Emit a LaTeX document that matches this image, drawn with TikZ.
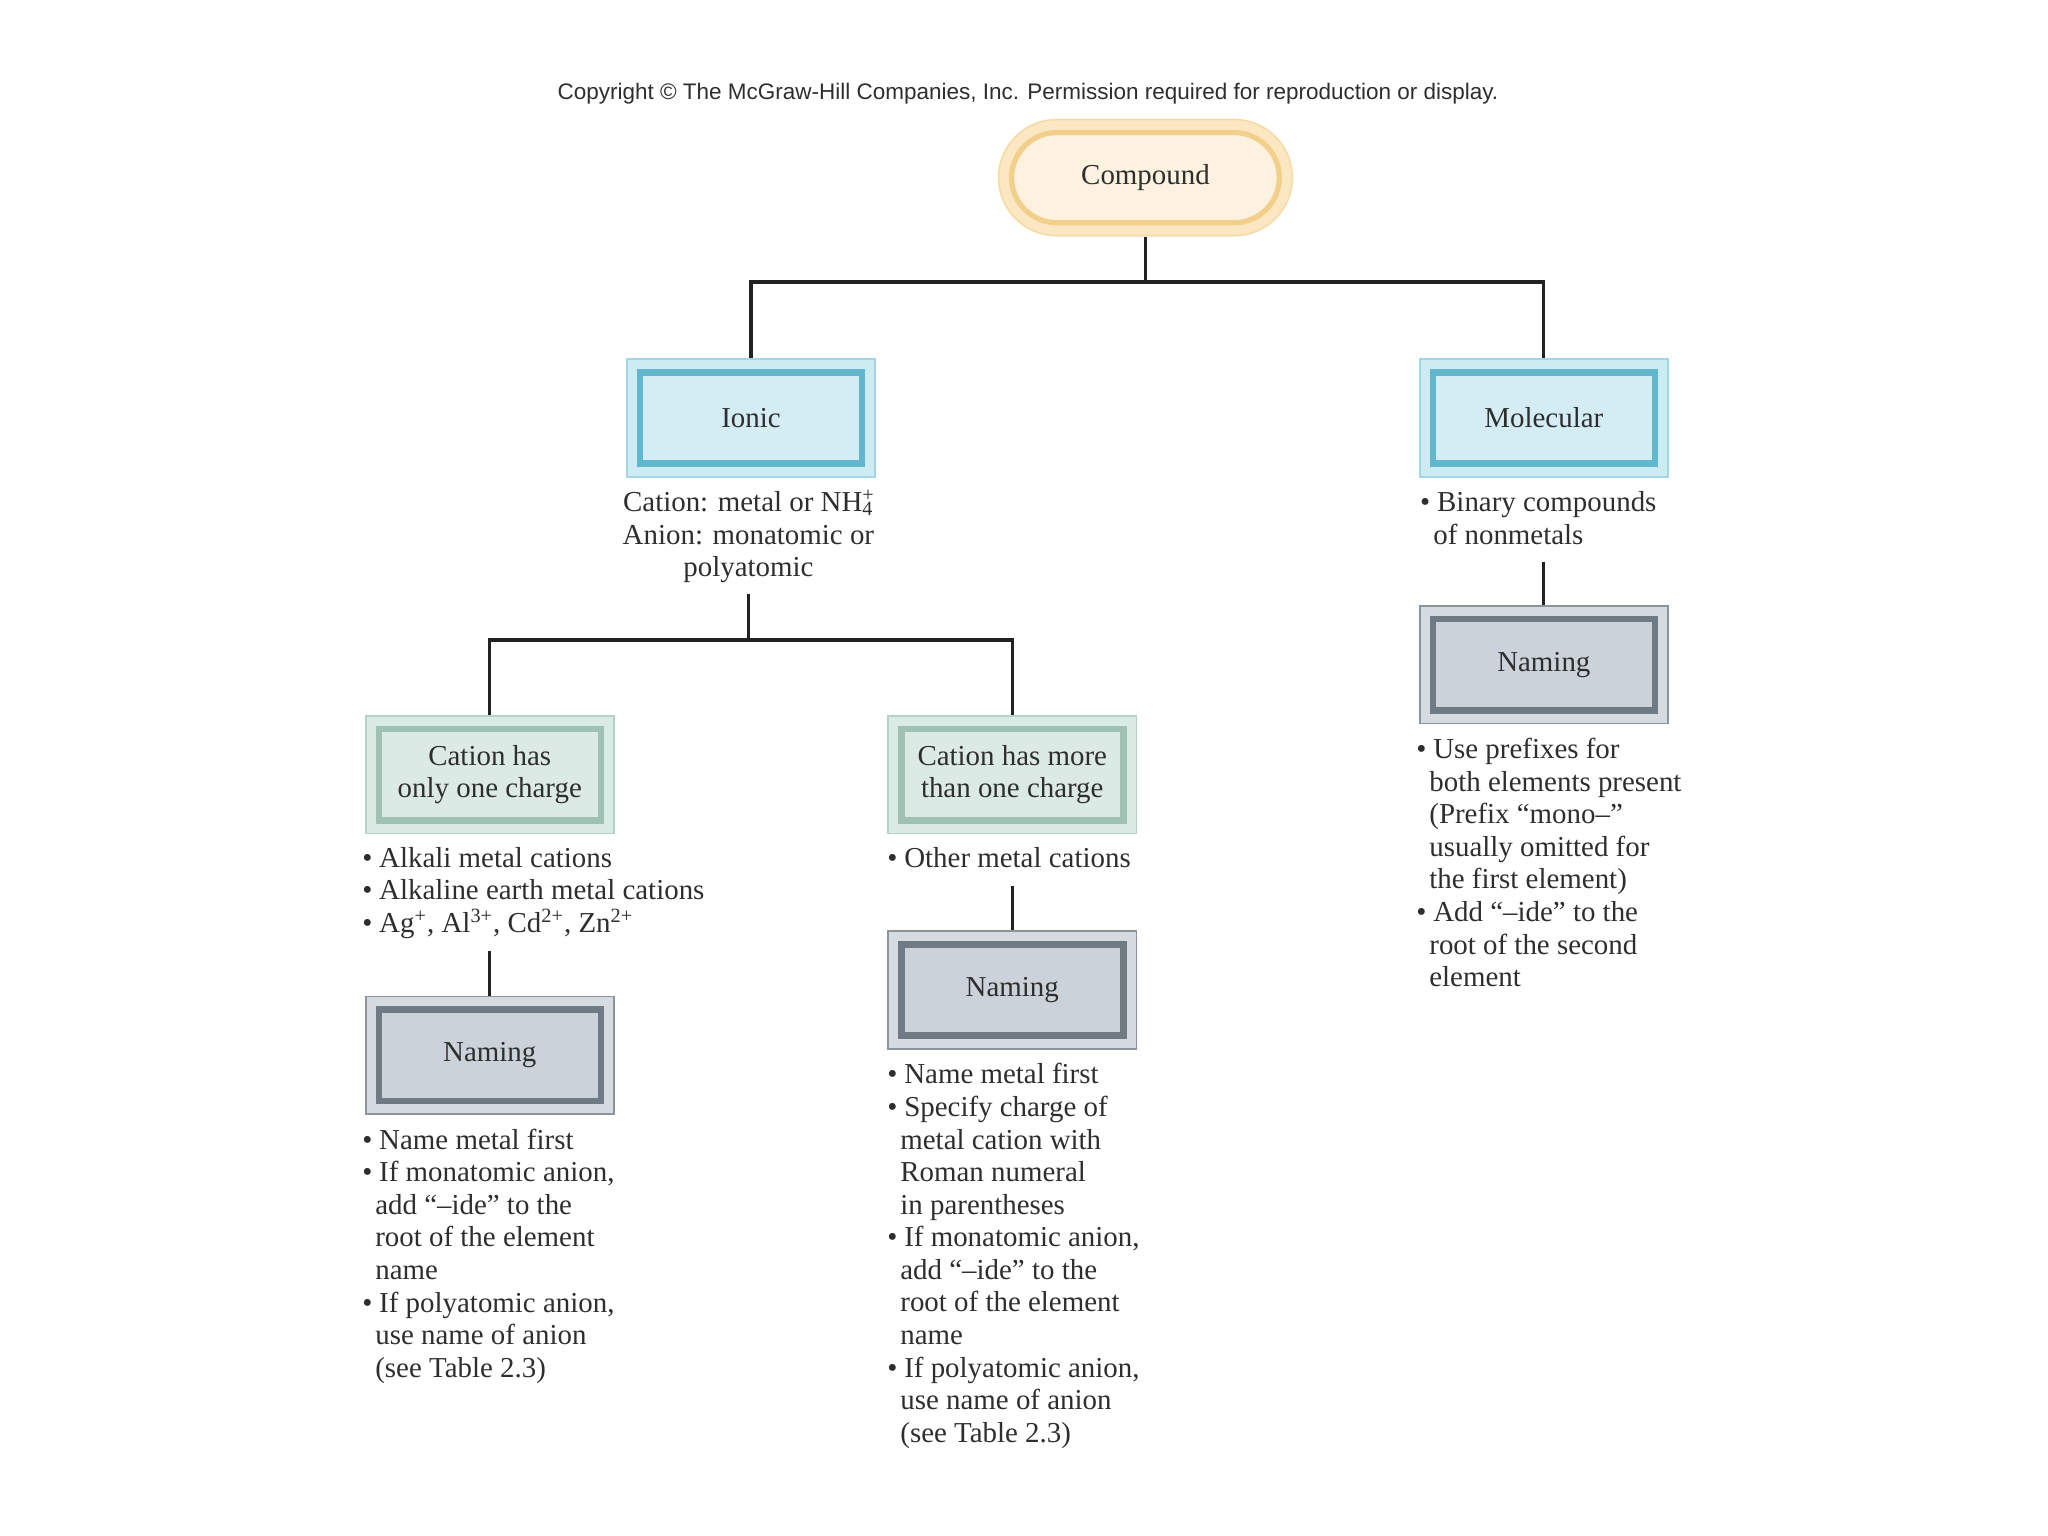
\documentclass[tikz,border=0pt]{standalone}
\usepackage{fontspec}
\setmainfont{Liberation Serif}
\newfontfamily\cpyfont{Liberation Sans}
\definecolor{textc}{HTML}{2E2E2E}
\definecolor{linec}{HTML}{222222}
\definecolor{pillO}{HTML}{F5DBA6}
\definecolor{pillB}{HTML}{FBE7C2}
\definecolor{pillL}{HTML}{F3CF8C}
\definecolor{pillF}{HTML}{FDF2DF}
\definecolor{ionO}{HTML}{A3D6E3}
\definecolor{ionB}{HTML}{CCEBF3}
\definecolor{ionL}{HTML}{62B6CE}
\definecolor{ionF}{HTML}{D4EDF5}
\definecolor{catO}{HTML}{B6D1C7}
\definecolor{catB}{HTML}{DAEAE4}
\definecolor{catL}{HTML}{9FC1B4}
\definecolor{catF}{HTML}{DCEAE5}
\definecolor{namO}{HTML}{8C959E}
\definecolor{namB}{HTML}{D6DBE1}
\definecolor{namL}{HTML}{6F7A84}
\definecolor{namF}{HTML}{CCD2DA}
\newcommand\bul{\makebox[0.26cm][l]{\textbullet}}
\newcommand\ind{\hspace*{0.2cm}}
\tikzset{
  txt/.style={font=\fontsize{12.6pt}{14.2pt}\selectfont, text=textc, inner sep=0pt},
  conn/.style={draw=linec, line width=0.05cm},
  dbox/.style n args={4}{draw=#1, fill=#2, line width=0.7pt, minimum width=3.8cm,
    minimum height=1.8cm, align=center, txt,
    path picture={\draw[draw=#3, fill=#4, line width=0.1cm]
      ([shift={(10,10)}]path picture bounding box.north west) rectangle
      ([shift={(-10,-10)}]path picture bounding box.south east);}},
  ibox/.style={dbox={ionO}{ionB}{ionL}{ionF}},
  cbox/.style={dbox={catO}{catB}{catL}{catF}},
  nbox/.style={dbox={namO}{namB}{namL}{namF}},
  pill/.style={draw=pillO, fill=pillB, line width=0.7pt, rounded corners=0.89cm,
    minimum width=4.5cm, minimum height=1.78cm, txt,
    path picture={\draw[draw=pillL, fill=pillF, line width=0.08cm, rounded corners=0.69cm]
      ([shift={(10,10)}]path picture bounding box.north west) rectangle
      ([shift={(-10,-10)}]path picture bounding box.south east);}},
  blk/.style={txt, align=left, anchor=north west},
}
\begin{document}
\begin{tikzpicture}[x=0.02cm, y=-0.02cm]
\useasboundingbox (0,0) rectangle (1568,1176);

\node[font=\cpyfont\fontsize{9.8pt}{11pt}\selectfont, text=textc, inner sep=0pt] (copy) at (787,72)
  {Copyright © The McGraw-Hill Companies, Inc. Permission required for reproduction or display.};

% connectors
\coordinate (j1) at (877,216);
\coordinate (t2) at (573,455);
\coordinate (j2) at (573,490);
\coordinate (t3) at (1182,430);
\coordinate (t4) at (375,728);
\coordinate (t5) at (775,678);

% nodes
\node[pill] (compound) at (877,136) {Compound};
\node[ibox] (ionic) at (575,320) {Ionic};
\node[ibox] (molecular) at (1182,320) {Molecular};
\node[cbox] (one) at (375,593) {Cation has\\only one charge};
\node[cbox] (more) at (775,593) {Cation has more\\than one charge};
\node[nbox] (nameL) at (375,808) {Naming};
\node[nbox] (nameM) at (775,758) {Naming};
\node[nbox] (nameR) at (1182,509) {Naming};

\draw[conn] (compound.south) -- (j1) -| (ionic.north);
\draw[conn] (j1) -| (molecular.north);
\draw[conn] (t2) -- (j2) -| (one.north);
\draw[conn] (j2) -| (more.north);
\draw[conn] (t3) -- (nameR.north);
\draw[conn] (t4) -- (nameL.north);
\draw[conn] (t5) -- (nameM.north);

% texts
\node[txt, align=center, anchor=north] (ionicTxt) at (573,374)
  {\strut Cation: metal or NH\rlap{\textsuperscript{+}}\textsubscript{4}\\Anion: monatomic or\\polyatomic};
\node[blk] (molTxt) at (1087,374) {\strut\bul Binary compounds\\\ind of nonmetals};
\node[blk] (oneTxt) at (277,646)
  {\strut\bul Alkali metal cations\\\bul Alkaline earth metal cations\\\bul Ag\textsuperscript{+}, Al\textsuperscript{3+}, Cd\textsuperscript{2+}, Zn\textsuperscript{2+}};
\node[blk] (moreTxt) at (679,646) {\strut\bul Other metal cations};
\node[blk] (nameLTxt) at (277,862)
  {\strut\bul Name metal first\\\bul If monatomic anion,\\\ind add “–ide” to the\\\ind root of the element\\\ind name\\\bul If polyatomic anion,\\\ind use name of anion\\\ind (see Table 2.3)};
\node[blk] (nameMTxt) at (679,812)
  {\strut\bul Name metal first\\\bul Specify charge of\\\ind metal cation with\\\ind Roman numeral\\\ind in parentheses\\\bul If monatomic anion,\\\ind add “–ide” to the\\\ind root of the element\\\ind name\\\bul If polyatomic anion,\\\ind use name of anion\\\ind (see Table 2.3)};
\node[blk] (nameRTxt) at (1084,563)
  {\strut\bul Use prefixes for\\\ind both elements present\\\ind (Prefix “mono–”\\\ind usually omitted for\\\ind the first element)\\\bul Add “–ide” to the\\\ind root of the second\\\ind element};
\end{tikzpicture}
\end{document}
